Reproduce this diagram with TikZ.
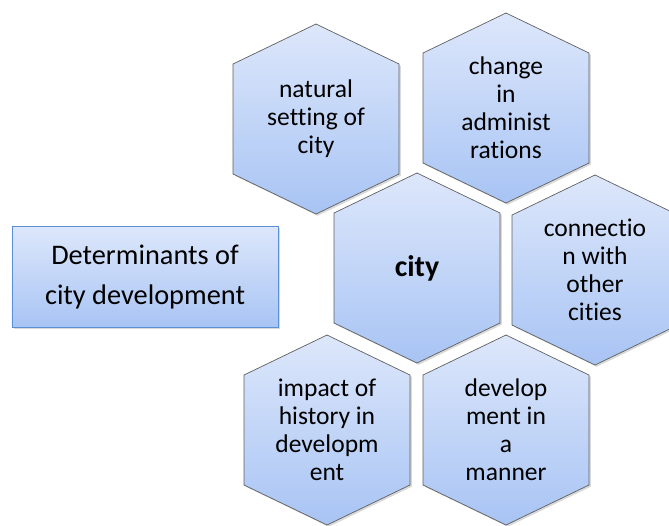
\documentclass[tikz,border=0pt]{standalone}
\usepackage{fontspec}
\setmainfont{Carlito}[Ligatures=NoCommon]
\usetikzlibrary{shadows}
\definecolor{hextop}{HTML}{DDE7FB}
\definecolor{hexbot}{HTML}{A8C4F4}
\definecolor{hexline}{HTML}{606060}
\definecolor{boxline}{HTML}{5B8FD6}

\begin{document}
\begin{tikzpicture}[
            x=0.03cm, y=-0.03cm,
            hexcell/.style={draw=hexline, line width=0.6pt, top color=hextop, bottom color=hexbot,
                drop shadow={opacity=0.3, shadow xshift=1.5pt, shadow yshift=-1.5pt}},
            hextext/.style={align=center, font=\fontsize{21.8}{23.9}\selectfont},
            titlebox/.style={draw=boxline, line width=0.6pt, top color=hextop, bottom color=hexbot,
                minimum width=7.98cm, minimum height=3.03cm, align=center,
                font=\fontsize{24.2}{34}\selectfont,
                drop shadow={opacity=0.3, shadow xshift=1.5pt, shadow yshift=-1.5pt}}
        ]
            \useasboundingbox (0,0) rectangle (669,525);

            % hexagon cells
            \foreach \cx/\cy/\name/\txt in {
                316/119/natural/{natural\\setting of\\city},
                506/108/admin/{change\\in\\administ\\rations},
                417/268/city/{\fontsize{25.5}{28}\selectfont\bfseries city},
                595/270/connection/{connectio\\n with\\other\\cities},
                327/430/history/{impact of\\history in\\developm\\ent},
                506/430/manner/{develop\\ment in\\a\\manner}} {
                \draw[hexcell, shift={(\cx,\cy)}] (0,-95) -- (83,-55) -- (83,55) -- (0,95)
                    -- (-83,55) -- (-83,-55) -- cycle;
                \node[hextext] (\name) at (\cx,\cy) {\txt};
            }

            \node[titlebox] (title) at (145,277) {Determinants of\\city development};
        \end{tikzpicture}
\end{document}
